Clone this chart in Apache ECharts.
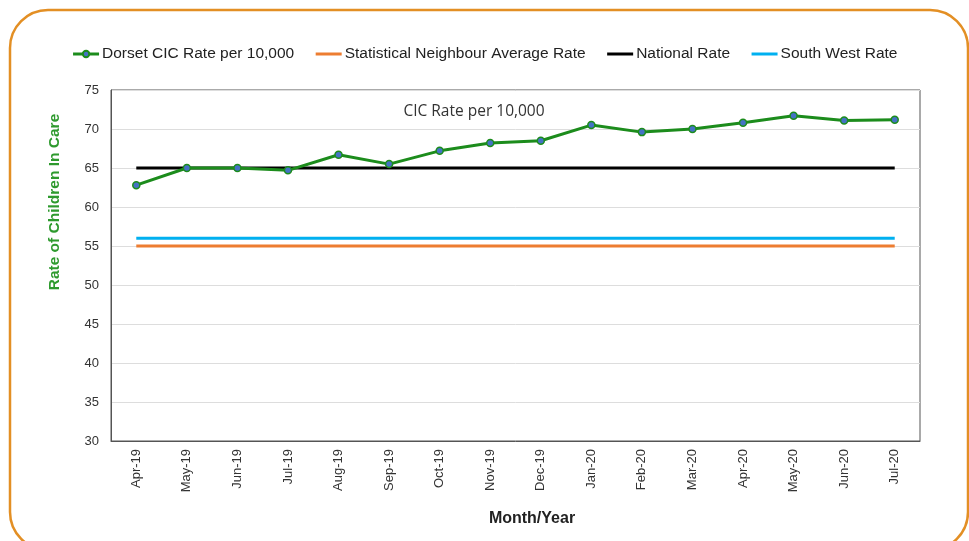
<!DOCTYPE html>
<html><head><meta charset="utf-8">
<script src="https://cdn.jsdelivr.net/npm/echarts@6/dist/echarts.min.js"></script>
<style>html,body{margin:0;padding:0;background:#fff}#c{width:969px;height:541px}</style>
</head><body><div id="c"></div>
<script>
var months = ['Apr-19','May-19','Jun-19','Jul-19','Aug-19','Sep-19','Oct-19','Nov-19','Dec-19','Jan-20','Feb-20','Mar-20','Apr-20','May-20','Jun-20','Jul-20'];
var dorset = [62.8,65.0,65.0,64.7,66.7,65.5,67.2,68.2,68.5,70.5,69.6,70.0,70.8,71.7,71.1,71.2];
var statNeighbour = [55,55,55,55,55,55,55,55,55,55,55,55,55,55,55,55];
var national = [65,65,65,65,65,65,65,65,65,65,65,65,65,65,65,65];
var southWest = [56,56,56,56,56,56,56,56,56,56,56,56,56,56,56,56];
var yTicks = {min:30, max:75, interval:5};

var chart = echarts.init(document.getElementById('c'));
var flat = function(name, data, color){
  return {name:name, type:'line', data:data, symbol:'none', z:2,
    lineStyle:{color:color, width:3}, itemStyle:{color:color}};
};
chart.setOption({
  animation:false,
  backgroundColor:'#fff',
  textStyle:{fontFamily:'Liberation Sans, Arial, sans-serif'},
  graphic:[
    {type:'rect', shape:{x:10, y:10, width:958, height:540, r:38}, style:{fill:'none', stroke:'#e38f24', lineWidth:2.5}, z:-10},
    {type:'text', x:474, y:112, style:{text:'CIC Rate per 10,000', font:'15.5px "Open Sans", sans-serif', fill:'#333', textAlign:'center', textVerticalAlign:'middle'}},
    {type:'text', x:55, y:202, rotation:Math.PI/2, style:{text:'Rate of Children In Care', font:'bold 15.5px "Liberation Sans", Arial, sans-serif', fill:'#2e9a2e', textAlign:'center', textVerticalAlign:'middle'}},
    {type:'text', x:532, y:519, style:{text:'Month/Year', font:'bold 16px "Liberation Sans", Arial, sans-serif', fill:'#222', textAlign:'center', textVerticalAlign:'middle'}}
  ],
  legend:{
    top:41, left:'center', itemWidth:26, itemHeight:8, itemGap:20,
    lineStyle:{width:3},
    textStyle:{fontSize:15.5, color:'#222', fontFamily:'Liberation Sans, Arial, sans-serif', padding:[0,0,0,-2]},
    data:[
      {name:'Dorset CIC Rate per 10,000'},
      {name:'Statistical Neighbour Average Rate', itemStyle:{opacity:0}},
      {name:'National Rate', itemStyle:{opacity:0}},
      {name:'South West Rate', itemStyle:{opacity:0}}
    ]
  },
  grid:{left:111, top:90, right:49, bottom:100, show:true, borderColor:'#555', borderWidth:1},
  xAxis:{type:'category', data:months, boundaryGap:true,
    axisLine:{lineStyle:{color:'#555'}}, axisTick:{show:false},
    axisLabel:{rotate:90, fontSize:13, color:'#333', margin:8}},
  yAxis:{type:'value', min:yTicks.min, max:yTicks.max, interval:yTicks.interval,
    axisLine:{show:true, lineStyle:{color:'#555'}},
    axisLabel:{fontSize:13, color:'#333', margin:12},
    splitLine:{lineStyle:{color:'#ddd'}}},
  series:[
    {name:'Dorset CIC Rate per 10,000', type:'line', data:dorset, z:5,
     symbol:'circle', symbolSize:7,
     lineStyle:{color:'#1c8c1c', width:3},
     itemStyle:{color:'#4472c4', borderColor:'#1c8c1c', borderWidth:1.5}},
    flat('Statistical Neighbour Average Rate', statNeighbour, '#ed7d31'),
    flat('National Rate', national, '#000000'),
    flat('South West Rate', southWest, '#00b0f0')
  ]
});
</script></body></html>
